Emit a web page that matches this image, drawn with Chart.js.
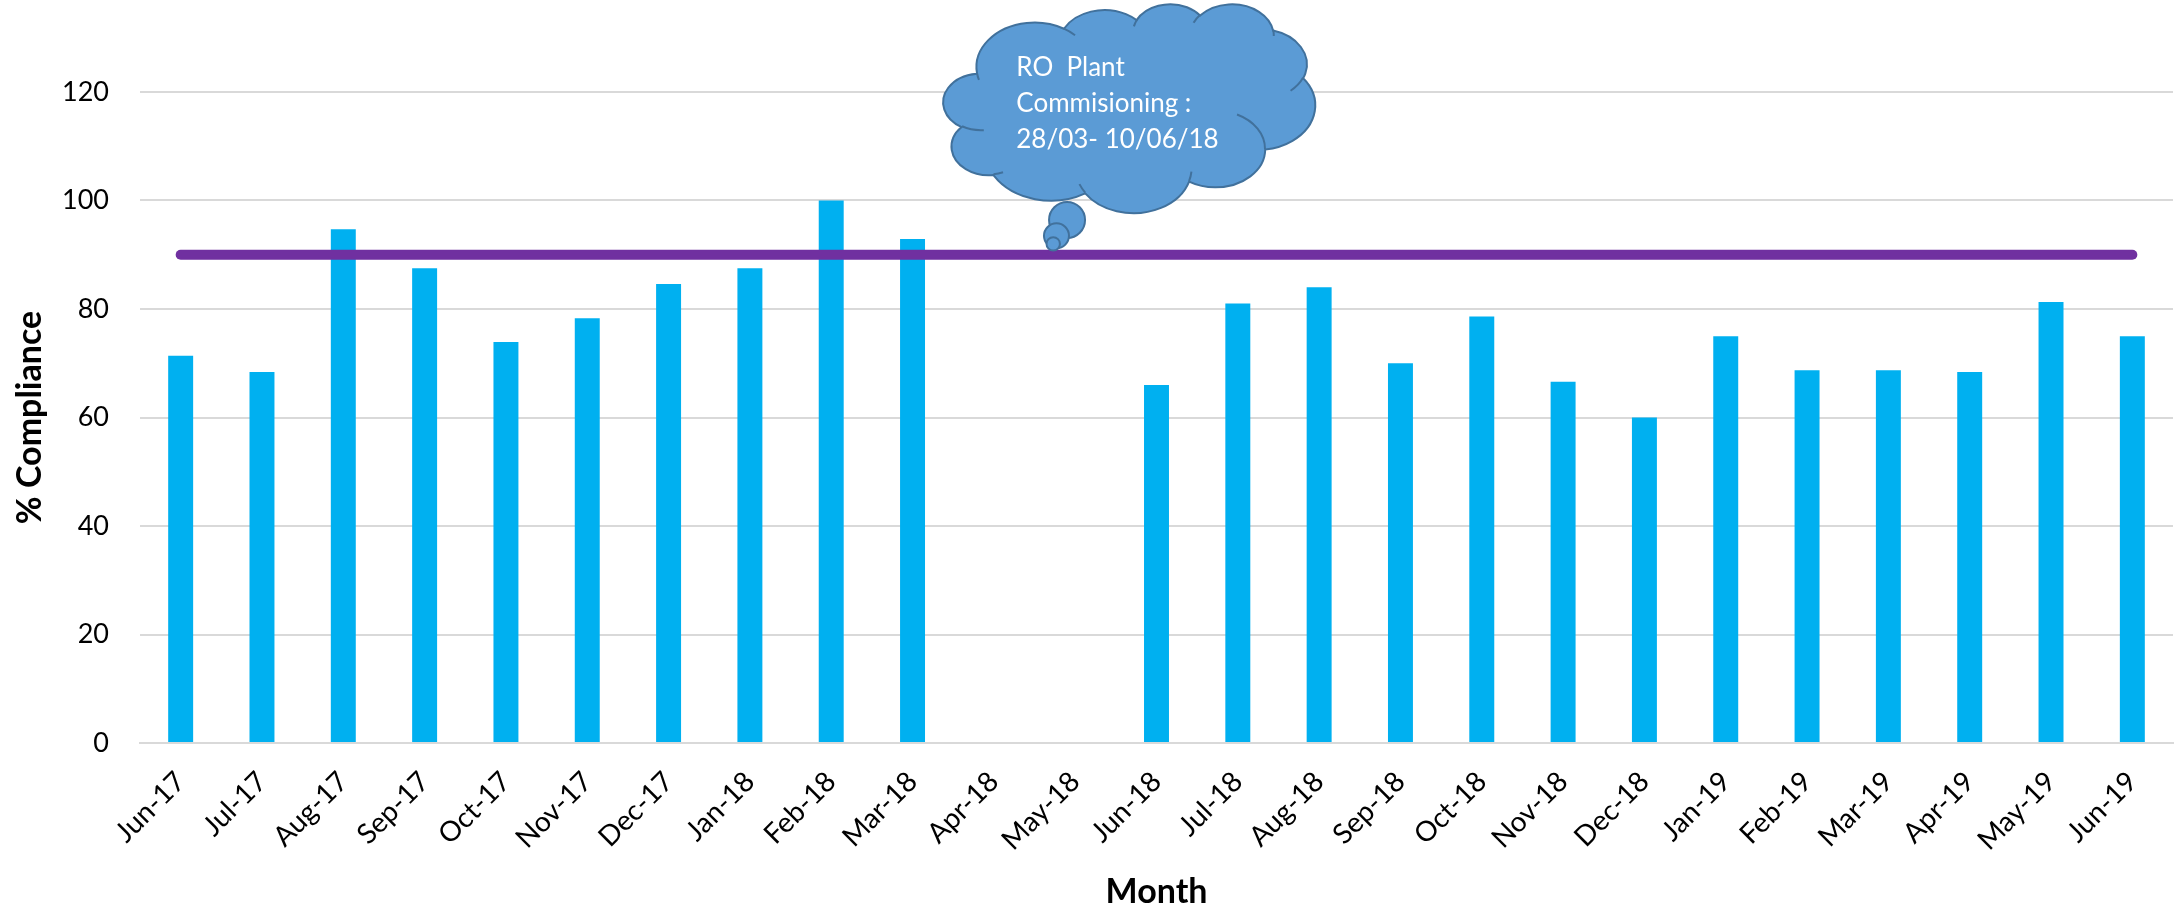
<!DOCTYPE html>
<html>
<head>
<meta charset="utf-8">
<script src="https://cdn.jsdelivr.net/npm/chart.js@4/dist/chart.umd.min.js"></script>
<style>
  html, body { margin: 0; padding: 0; background: #ffffff; }
  #wrap { width: 2182px; height: 914px; }
</style>
</head>
<body>
<div id="wrap"><canvas id="c" width="2182" height="914"></canvas></div>
<script>
// ---- data ----
const months = ["Jun-17","Jul-17","Aug-17","Sep-17","Oct-17","Nov-17","Dec-17","Jan-18","Feb-18","Mar-18","Apr-18","May-18","Jun-18","Jul-18","Aug-18","Sep-18","Oct-18","Nov-18","Dec-18","Jan-19","Feb-19","Mar-19","Apr-19","May-19","Jun-19"];
const compliance = [71.4, 68.4, 94.7, 87.5, 73.9, 78.3, 84.6, 87.5, 100, 92.9, null, null, 66.0, 81.0, 84.0, 70.0, 78.6, 66.6, 60.0, 75.0, 68.7, 68.7, 68.4, 81.3, 75.0];
const target = [90, 90, 90, 90, 90, 90, 90, 90, 90, 90, 90, 90, 90, 90, 90, 90, 90, 90, 90, 90, 90, 90, 90, 90, 90];
const yTicks = [0, 20, 40, 60, 80, 100, 120];
const calloutLines = ["RO  Plant", "Commisioning :", "28/03- 10/06/18"];

// ---- callout (thought cloud) placement in data units ----
const cloudBox = { xFrom: 9.38, xTo: 13.95, yTop: 136.3, yBottom: 97.8 };
const bubbles = [
  { x: 10.90, y: 96.4, r: 18 },
  { x: 10.77, y: 93.5, r: 12.5 },
  { x: 10.73, y: 92.0, r: 6.7 }
];

// Office "cloud" preset geometry (43200 units)
const cloudArcs = [
  [6753, 9190, -11429249, 7426832],
  [5333, 7267, -8646143, 5396714],
  [4365, 5945, -8748475, 5983381],
  [4857, 6595, -7859164, 7034504],
  [5333, 7273, -4722533, 6541615],
  [6775, 9220, -2776035, 7816140],
  [5785, 7867, 37501, 6842000],
  [6752, 9215, 1347096, 6910353],
  [7720, 10543, 3974558, 4542661],
  [4360, 5918, -16496525, 8804134],
  [4345, 5945, -14809710, 9151131]
];
const cloudInner = [
  [4693, 26177, 4345, 5945, 5204520, 1585770],
  [6928, 34899, 4360, 5918, 4416628, 686848],
  [16478, 39090, 6752, 9215, 8257449, 844866],
  [28827, 34751, 6752, 9215, 387196, 959901],
  [34129, 22954, 5785, 7867, -4217541, 4255042],
  [41798, 15354, 5333, 7273, 1819082, 1665090],
  [38324, 5426, 4857, 6595, -824660, 891534],
  [29078, 3952, 4857, 6595, -8950887, 1091722],
  [22141, 4720, 4365, 5945, -9809656, 1061181],
  [14000, 5192, 6753, 9190, -4002417, 739161],
  [4127, 15789, 6753, 9190, 9459261, 711490]
];

function arcSeg(ctx, px, py, wR, hR, st, sw, ox, oy, sx, sy) {
  const a1 = st / 60000 * Math.PI / 180;
  const a2 = (st + sw) / 60000 * Math.PI / 180;
  const t1 = Math.atan2(wR * Math.sin(a1), hR * Math.cos(a1));
  let t2 = Math.atan2(wR * Math.sin(a2), hR * Math.cos(a2));
  if (sw > 0) { while (t2 <= t1) t2 += 2 * Math.PI; }
  else { while (t2 >= t1) t2 -= 2 * Math.PI; }
  const cx = px - wR * Math.cos(t1);
  const cy = py - hR * Math.sin(t1);
  ctx.ellipse(ox + cx * sx, oy + cy * sy, wR * sx, hR * sy, 0, t1, t2, sw < 0);
  return [cx + wR * Math.cos(t2), cy + hR * Math.sin(t2)];
}

const cloudPlugin = {
  id: 'cloudCallout',
  afterDatasetsDraw(chart) {
    const ctx = chart.ctx;
    const xs = chart.scales.x, ys = chart.scales.y;
    const x0 = xs.getPixelForValue(cloudBox.xFrom);
    const x1 = xs.getPixelForValue(cloudBox.xTo);
    const y0 = ys.getPixelForValue(cloudBox.yTop);
    const y1 = ys.getPixelForValue(cloudBox.yBottom);
    const w = x1 - x0, h = y1 - y0;
    const sx = w / 43200, sy = h / 43200;
    ctx.save();
    ctx.fillStyle = '#5B9BD5';
    ctx.strokeStyle = '#41719C';
    ctx.lineWidth = 2;
    // bubbles
    bubbles.forEach(b => {
      ctx.beginPath();
      ctx.arc(xs.getPixelForValue(b.x), ys.getPixelForValue(b.y), b.r, 0, Math.PI * 2);
      ctx.fill();
      ctx.stroke();
    });
    // main cloud
    ctx.beginPath();
    let px = 3900, py = 14370;
    ctx.moveTo(x0 + px * sx, y0 + py * sy);
    cloudArcs.forEach(a => {
      [px, py] = arcSeg(ctx, px, py, a[0], a[1], a[2], a[3], x0, y0, sx, sy);
    });
    ctx.closePath();
    ctx.fill();
    ctx.stroke();
    // inner arcs
    cloudInner.forEach(a => {
      ctx.beginPath();
      ctx.moveTo(x0 + a[0] * sx, y0 + a[1] * sy);
      arcSeg(ctx, a[0], a[1], a[2], a[3], a[4], a[5], x0, y0, sx, sy);
      ctx.stroke();
    });
    // text
    ctx.fillStyle = '#FFFFFF';
    ctx.font = '26px Lato';
    ctx.textAlign = 'left';
    ctx.textBaseline = 'alphabetic';
    const fr = [0.345, 0.52, 0.69];
    calloutLines.forEach((t, i) => {
      ctx.fillText(t, x0 + 0.196 * w, y0 + fr[i] * h);
    });
    ctx.restore();
  }
};

new Chart(document.getElementById('c'), {
  data: {
    labels: months,
    datasets: [
      {
        type: 'line',
        label: 'Target',
        data: target,
        borderColor: '#7030A0',
        borderWidth: 10,
        borderCapStyle: 'round',
        pointRadius: 0,
        fill: false,
        order: 0
      },
      {
        type: 'bar',
        label: '% Compliance',
        data: compliance,
        backgroundColor: '#00B0F0',
        barPercentage: 0.307,
        categoryPercentage: 1.0,
        order: 1
      }
    ]
  },
  options: {
    responsive: false,
    animation: false,
    devicePixelRatio: 1,
    layout: { padding: { top: 92, right: 9, bottom: 0, left: 0 } },
    plugins: { legend: { display: false }, tooltip: { enabled: false } },
    scales: {
      x: {
        grid: { display: false, drawTicks: false },
        border: { display: true, color: '#D9D9D9', width: 2 },
        ticks: {
          color: '#000000',
          font: { family: 'Lato', size: 28 },
          minRotation: 45, maxRotation: 45,
          autoSkip: false,
          padding: 22
        },
        title: {
          display: true,
          text: 'Month',
          color: '#000000',
          font: { family: 'Lato', size: 34, weight: 'bold' },
          padding: { top: 4, bottom: 2 }
        },
        afterFit(scale) { scale.height = 171; }
      },
      y: {
        min: 0, max: 120,
        afterBuildTicks(scale) { scale.ticks = yTicks.map(v => ({ value: v })); },
        grid: { color: '#D9D9D9', lineWidth: 2, drawTicks: false },
        border: { display: false },
        ticks: {
          color: '#000000',
          font: { family: 'Lato', size: 27 },
          padding: 31
        },
        title: {
          display: true,
          text: '% Compliance',
          color: '#000000',
          font: { family: 'Lato', size: 34, weight: 'bold' },
          padding: { top: 10, bottom: 0 }
        },
        afterFit(scale) { scale.width = 140; }
      }
    }
  },
  plugins: [cloudPlugin]
});
</script>
</body>
</html>
